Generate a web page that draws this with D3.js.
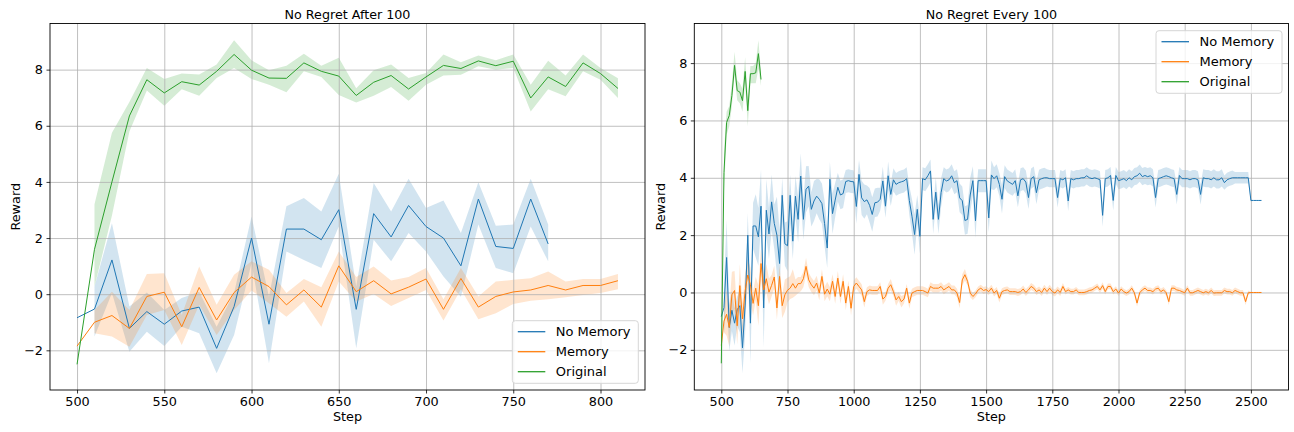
<!DOCTYPE html>
<html>
<head>
<meta charset="utf-8">
<script src="https://cdn.jsdelivr.net/npm/d3@7/dist/d3.min.js"></script>
<style>
  body { margin: 0; background: #fff; }
  svg { font-family: "DejaVu Sans", sans-serif; }
</style>
</head>
<body>
<svg width="1294" height="432"></svg>
<script>
// ---- data ----
const seriesNames = ['No Memory', 'Memory', 'Original'];
const seriesColors = ['#1f77b4', '#ff7f0e', '#2ca02c'];

// "No Regret After 100": steps 500, 510, ... (step of 10)
const afterNoMem = [-0.84, -0.53, 1.22, -1.22, -0.62, -1.07, -0.60, -0.46, -1.93, -0.44,
    2.00, -1.07, 2.32, 2.32, 1.94, 3.01, -0.54, 2.87, 2.04, 3.16,
    2.41, 2.00, 1.01, 3.39, 1.70, 1.63, 3.39, 1.79];
const afterNoMemLo = [null, -1.51, 0.04, -2.05, -1.34, -1.85, -1.16, -1.39, -2.82, -1.45,
    1.11, -2.46, 1.52, 1.22, 0.93, 2.41, -1.93, 1.94, 1.17, 2.18,
    1.52, 0.63, -0.09, 2.48, 0.93, 0.75, 2.41, 1.17];
const afterNoMemHi = [null, 0.27, 2.53, -0.44, 0.06, -0.56, -0.14, 0.09, -1.16, 0.04,
    2.77, -0.09, 3.13, 3.43, 2.95, 4.29, 0.27, 3.96, 2.95, 4.11,
    3.07, 3.34, 2.18, 3.99, 2.44, 2.48, 4.11, 2.48];

const afterMem = [-1.85, -1.00, -0.76, -1.22, -0.08, 0.07, -1.16, 0.24, -0.92, 0.06,
    0.61, 0.27, -0.38, 0.15, -0.46, 1.01, 0.09, 0.48, 0.01, 0.25,
    0.54, -0.54, 0.56, -0.46, -0.08, 0.08, 0.15, 0.31, 0.15, 0.31,
    0.31, 0.48];
const afterMemLo = [null, -1.39, -1.51, -1.87, -0.74, -0.56, -1.81, -0.38, -1.45, -0.56,
    0.13, -0.32, -0.80, -0.26, -1.16, 0.45, -0.26, 0.01, -0.42, -0.14,
    0.15, -0.94, 0.18, -0.89, -0.68, -0.35, -0.23, -0.18, -0.11, -0.03,
    0.04, 0.18];
const afterMemHi = [null, -0.56, 0.09, -0.56, 0.72, 0.75, -0.74, 0.99, -0.38, 0.69,
    1.17, 0.87, 0.04, 0.54, 0.25, 1.52, 0.61, 0.99, 0.49, 0.61,
    0.93, -0.18, 0.93, -0.08, 0.45, 0.51, 0.57, 0.81, 0.45, 0.54,
    0.54, 0.72];

const afterOrig = [-2.50, 1.60, 4.00, 6.35, 7.64, 7.17, 7.57, 7.45, 7.94, 8.54,
    7.98, 7.70, 7.69, 8.24, 7.94, 7.77, 7.08, 7.55, 7.79, 7.31,
    7.74, 8.15, 8.04, 8.31, 8.14, 8.30, 6.99, 7.74, 7.40, 8.24,
    7.86, 7.33];
const afterOrigLo = [null, 0.27, 2.80, 5.80, 7.26, 6.71, 7.30, 7.07, 7.70, 8.06,
    7.67, 7.46, 7.19, 7.94, 7.74, 7.10, 6.83, 7.07, 7.38, 6.89,
    7.46, 7.79, 7.82, 8.12, 8.00, 8.06, 6.51, 7.30, 7.05, 7.94,
    7.64, 6.99];
const afterOrigHi = [null, 3.20, 5.75, 6.85, 8.06, 7.67, 7.86, 7.83, 8.18, 9.05,
    8.33, 7.98, 8.14, 8.57, 8.14, 8.42, 7.34, 7.98, 8.18, 7.70,
    7.88, 8.54, 8.26, 8.50, 8.33, 8.54, 7.46, 8.32, 7.79, 8.54,
    8.06, 7.69];

// "No Regret Every 100": same runs up to the end of the left panel, then these tails
const everyNoMemTail = [
    3.36, 2.55,                                                      // 780-790
    4.06, 2.55, 3.60, 3.71, 2.90, 3.19, 3.36, 3.25, 3.10, 2.40,      // 800s
    1.55, 3.95, 2.75, 3.22, 3.67, 3.40, 3.45, 3.87, 3.90, 3.87,      // 900s
    3.86, 3.00, 4.12, 3.30, 3.17, 3.23, 3.04, 2.72, 3.13, 3.15,      // 1000s
    3.25, 3.89, 3.01, 4.07, 3.42, 3.93, 3.77, 3.83, 3.86, 3.89,      // 1100s
    3.97, 3.21, 2.66, 2.02, 2.90, 1.96, 3.97, 3.93, 4.07, 4.24,      // 1200s
    2.55, 3.50, 2.55, 3.48, 3.97, 3.89, 3.93, 4.07, 3.83, 3.90,      // 1300s
    3.30, 3.20, 2.51, 2.55, 3.40, 3.90, 2.50, 3.90, 3.90, 3.90,      // 1400s
    3.90, 2.60, 4.10, 3.97, 4.07, 3.77, 3.25, 4.04, 3.89, 3.83,      // 1500s
    3.77, 3.90, 3.37, 3.93, 3.97, 3.85, 3.31, 3.97, 4.04, 3.48,      // 1600s
    3.93, 3.97, 4.00, 4.00, 3.97, 3.97, 3.97, 3.31, 3.97, 3.93,      // 1700s
    4.00, 3.19, 3.97, 3.93, 3.97, 3.97, 4.00, 4.00, 4.07, 4.00,      // 1800s
    3.97, 4.00, 3.97, 3.93, 2.69, 3.97, 4.00, 4.08, 3.21, 4.08,      // 1900s
    3.90, 3.93, 3.97, 3.90, 4.00, 3.93, 4.04, 4.07, 4.16, 4.04,      // 2000s
    4.08, 4.04, 4.07, 4.00, 3.31, 3.97, 4.00, 4.04, 4.07, 4.04,      // 2100s
    4.00, 3.97, 3.42, 4.08, 3.97, 3.97, 3.97, 3.93, 3.97, 3.97,      // 2200s
    3.93, 3.42, 4.00, 3.97, 3.97, 3.93, 4.00, 3.93, 3.93, 4.00,      // 2300s
    3.83, 3.93, 3.97, 4.00, 4.00, 4.00, 4.00, 4.00, 4.00, 4.00,      // 2400s
    3.21, 3.21, 3.21, 3.21, 3.21                                     // 2500-2540
];
const everyNoMemSpread = [
    0.7, 0.8,
    0.8, 0.7, 0.8, 0.7, 0.6, 0.7, 0.6, 0.7, 0.7, 0.8,
    0.7, 0.6, 0.7, 0.6, 0.5, 0.5, 0.5, 0.4, 0.4, 0.4,
    0.4, 0.6, 0.5, 0.6, 0.6, 0.5, 0.6, 0.6, 0.5, 0.5,
    0.4, 0.5, 0.4, 0.5, 0.4, 0.4, 0.4, 0.4, 0.4, 0.4,
    0.4, 0.5, 0.6, 0.7, 0.5, 0.6, 0.4, 0.4, 0.4, 0.4,
    0.5, 0.5, 0.5, 0.5, 0.4, 0.4, 0.4, 0.4, 0.4, 0.4,
    0.5, 0.5, 0.5, 0.5, 0.6, 0.5, 0.6, 0.4, 0.4, 0.4,
    0.4, 0.5, 0.5, 0.4, 0.4, 0.4, 0.5, 0.4, 0.4, 0.4,
    0.4, 0.4, 0.4, 0.4, 0.4, 0.4, 0.4, 0.35, 0.35, 0.4,
    0.35, 0.35, 0.35, 0.3, 0.3, 0.3, 0.3, 0.35, 0.3, 0.3,
    0.3, 0.35, 0.3, 0.3, 0.3, 0.3, 0.3, 0.3, 0.3, 0.3,
    0.3, 0.3, 0.3, 0.3, 0.4, 0.3, 0.3, 0.3, 0.35, 0.3,
    0.3, 0.3, 0.3, 0.3, 0.3, 0.3, 0.3, 0.3, 0.3, 0.3,
    0.3, 0.3, 0.3, 0.3, 0.35, 0.3, 0.3, 0.3, 0.3, 0.3,
    0.3, 0.3, 0.35, 0.3, 0.3, 0.3, 0.3, 0.3, 0.3, 0.3,
    0.3, 0.35, 0.3, 0.3, 0.3, 0.3, 0.3, 0.3, 0.3, 0.3,
    0.25, 0.25, 0.25, 0.25, 0.2, 0.2, 0.2, 0.2, 0.2, 0.2,
    0.05, 0, 0, 0, 0
];

const everyMemTail = [
    0.91, 0.44, 0.27, 0.15, 0.33, -0.02, 0.56, -0.06,                   // 820-890
    0.12, -0.06, 0.39, -0.14, 0.50, -0.14, 0.39, -0.37, 0.21, -0.55,    // 900s
    0.21, 0.33, 0.21, 0.09, -0.32, 0.03, 0.09, 0.07, 0.07, 0.07,        // 1000s
    0.21, -0.23, -0.14, 0.15, 0.27, 0.03, -0.26, -0.14, -0.32, -0.23,   // 1100s
    0.15, -0.37, -0.02, 0.03, 0.07, 0.07, 0.07, 0.03, -0.02, 0.21,      // 1200s
    0.15, 0.15, 0.15, 0.21, 0.09, 0.15, 0.21, 0.09, 0.09, -0.02,        // 1300s
    -0.35, 0.44, 0.62, 0.39, -0.02, -0.14, -0.05, 0.09, 0.15, 0.07,     // 1400s
    0.10, 0.03, 0.15, -0.02, 0.07, -0.20, 0.03, 0.07, 0.09, 0.03,       // 1500s
    0.03, 0.03, 0.00, 0.03, 0.12, 0.00, 0.09, 0.21, 0.15, 0.03,         // 1600s
    0.09, 0.00, 0.15, 0.03, 0.15, 0.03, -0.02, 0.09, 0.00, 0.21,        // 1700s
    0.03, 0.09, 0.03, 0.03, 0.09, 0.00, 0.00, 0.00, 0.03, 0.07,         // 1800s
    0.09, 0.15, 0.21, 0.09, 0.24, 0.03, 0.21, 0.21, 0.03, 0.12,         // 1900s
    -0.02, 0.12, 0.03, -0.02, 0.03, 0.15, -0.01, -0.37, -0.01, 0.09,    // 2000s
    0.15, 0.07, 0.07, 0.03, 0.12, 0.15, 0.03, 0.09, -0.01, -0.32,       // 2100s
    0.15, 0.15, 0.09, 0.07, 0.03, -0.01, 0.15, -0.01, -0.01, 0.03,      // 2200s
    0.07, 0.03, -0.01, 0.03, -0.01, 0.07, -0.02, -0.01, -0.01, -0.01,   // 2300s
    0.07, 0.03, 0.03, -0.01, 0.07, 0.03, -0.01, -0.01, -0.32, -0.01,    // 2400s
    0.00, 0.00, 0.00, 0.00, 0.00                                        // 2500-2540
];
const everyMemSpread = [
    0.3, 0.25, 0.25, 0.25, 0.25, 0.25, 0.25, 0.25,
    0.25, 0.25, 0.25, 0.25, 0.25, 0.25, 0.25, 0.25, 0.2, 0.25,
    0.2, 0.2, 0.2, 0.2, 0.2, 0.15, 0.15, 0.15, 0.15, 0.15,
    0.15, 0.2, 0.15, 0.15, 0.2, 0.15, 0.2, 0.15, 0.2, 0.15,
    0.15, 0.2, 0.15, 0.15, 0.15, 0.15, 0.15, 0.15, 0.15, 0.15,
    0.15, 0.15, 0.15, 0.15, 0.15, 0.15, 0.15, 0.15, 0.15, 0.15,
    0.2, 0.2, 0.2, 0.15, 0.15, 0.12, 0.12, 0.12, 0.12, 0.12,
    0.12, 0.12, 0.12, 0.12, 0.12, 0.15, 0.12, 0.12, 0.12, 0.12,
    0.12, 0.12, 0.12, 0.12, 0.12, 0.12, 0.12, 0.12, 0.12, 0.12,
    0.12, 0.12, 0.12, 0.12, 0.12, 0.12, 0.12, 0.12, 0.12, 0.12,
    0.1, 0.1, 0.1, 0.1, 0.1, 0.1, 0.1, 0.1, 0.1, 0.1,
    0.1, 0.1, 0.1, 0.1, 0.12, 0.1, 0.1, 0.1, 0.1, 0.1,
    0.1, 0.1, 0.1, 0.1, 0.1, 0.1, 0.1, 0.12, 0.1, 0.1,
    0.1, 0.1, 0.1, 0.1, 0.1, 0.1, 0.1, 0.1, 0.1, 0.12,
    0.1, 0.1, 0.1, 0.1, 0.1, 0.1, 0.1, 0.1, 0.1, 0.1,
    0.1, 0.1, 0.1, 0.1, 0.1, 0.1, 0.1, 0.1, 0.1, 0.1,
    0.1, 0.1, 0.1, 0.1, 0.1, 0.1, 0.1, 0.1, 0.12, 0.08,
    0.02, 0, 0, 0, 0
];

const everyOrig = [-2.47, 4.18, 5.93, 6.17, 6.87, 7.92, 7.04, 6.99, 6.69, 7.71,
    6.34, 7.63, 7.63, 7.66, 8.33, 7.43];
const everyOrigLo = [null, 3.50, 5.50, 5.80, 6.50, 7.60, 6.70, 6.60, 6.30, 7.30,
    5.80, 7.30, 7.30, 7.30, 7.80, 7.20];
const everyOrigHi = [null, 4.90, 6.30, 6.50, 7.30, 8.40, 7.40, 7.30, 7.10, 8.20,
    6.80, 7.90, 7.90, 8.00, 8.80, 7.70];

const afterXTicks = [500, 550, 600, 650, 700, 750, 800];
const everyXTicks = [500, 750, 1000, 1250, 1500, 1750, 2000, 2250, 2500];
const yTicks = [-2, 0, 2, 4, 6, 8];

const firstStep = 500, stepGap = 10;

// ---- build the series ----
function makeSeries(mean, lo, hi) {
    return mean.map((v, i) => ({
        step: firstStep + i * stepGap, v: v,
        lo: lo[i], hi: hi[i]
    }));
}

const afterSeries = [
    makeSeries(afterNoMem, afterNoMemLo, afterNoMemHi),
    makeSeries(afterMem, afterMemLo, afterMemHi),
    makeSeries(afterOrig, afterOrigLo, afterOrigHi)
];

const everyNoMem = afterNoMem.concat(everyNoMemTail);
const everyMem = afterMem.concat(everyMemTail);
const everySeries = [
    makeSeries(everyNoMem,
        afterNoMemLo.concat(everyNoMemTail.map((v, i) => v - everyNoMemSpread[i])),
        afterNoMemHi.concat(everyNoMemTail.map((v, i) => v + everyNoMemSpread[i]))),
    makeSeries(everyMem,
        afterMemLo.concat(everyMemTail.map((v, i) => v - everyMemSpread[i])),
        afterMemHi.concat(everyMemTail.map((v, i) => v + everyMemSpread[i]))),
    makeSeries(everyOrig, everyOrigLo, everyOrigHi)
];

const svg = d3.select('svg');
const tickFmt = d3.format('d');

// matplotlib style 5% margins
function padded(ext) {
    const m = (ext[1] - ext[0]) * 0.05;
    return [ext[0] - m, ext[1] + m];
}

function drawPanel(cfg) {
    const { left, right, top, bottom } = cfg.box;
    const all = cfg.series.flat();
    const x = d3.scaleLinear()
        .domain(padded(d3.extent(all, d => d.step)))
        .range([left, right]);
    const yMin = d3.min(all, d => Math.min(d.v, d.lo == null ? d.v : d.lo));
    const yMax = d3.max(all, d => Math.max(d.v, d.hi == null ? d.v : d.hi));
    const y = d3.scaleLinear().domain(padded([yMin, yMax])).range([bottom, top]);

    const g = svg.append('g');

    // bands first (below grid), then grid, then lines
    const area = d3.area()
        .defined(d => d.lo != null)
        .x(d => x(d.step))
        .y0(d => y(d.lo))
        .y1(d => y(d.hi));
    cfg.series.forEach((s, i) => {
        g.append('path')
            .attr('d', area(s))
            .attr('fill', seriesColors[i])
            .attr('fill-opacity', 0.2);
    });

    // grid
    g.append('g')
        .attr('transform', 'translate(0,' + bottom + ')')
        .call(d3.axisBottom(x).tickValues(cfg.xTicks).tickSize(-(bottom - top)).tickFormat(''))
        .call(a => a.select('.domain').remove())
        .selectAll('line').attr('stroke', '#b0b0b0').attr('stroke-width', 0.8);
    g.append('g')
        .attr('transform', 'translate(' + left + ',0)')
        .call(d3.axisLeft(y).tickValues(yTicks).tickSize(-(right - left)).tickFormat(''))
        .call(a => a.select('.domain').remove())
        .selectAll('line').attr('stroke', '#b0b0b0').attr('stroke-width', 0.8);

    const line = d3.line().x(d => x(d.step)).y(d => y(d.v));
    cfg.series.forEach((s, i) => {
        g.append('path')
            .attr('d', line(s))
            .attr('fill', 'none')
            .attr('stroke', seriesColors[i])
            .attr('stroke-width', 1)
            .attr('stroke-linejoin', 'round');
    });

    // axes with ticks and labels
    const xAxis = g.append('g')
        .attr('transform', 'translate(0,' + bottom + ')')
        .call(d3.axisBottom(x).tickValues(cfg.xTicks).tickFormat(tickFmt).tickSize(3.5).tickPadding(3.5));
    const yAxis = g.append('g')
        .attr('transform', 'translate(' + left + ',0)')
        .call(d3.axisLeft(y).tickValues(yTicks).tickFormat(tickFmt).tickSize(3.5).tickPadding(3.5));
    [xAxis, yAxis].forEach(a => {
        a.select('.domain').remove();
        a.selectAll('line').attr('stroke', '#000').attr('stroke-width', 0.8);
        a.selectAll('text')
            .attr('fill', '#000')
            .style('font-size', '12.8px')
            .style('font-family', '"DejaVu Sans", sans-serif');
    });

    // frame
    g.append('rect')
        .attr('x', left).attr('y', top)
        .attr('width', right - left).attr('height', bottom - top)
        .attr('fill', 'none').attr('stroke', '#000').attr('stroke-width', 0.9);

    // title and axis labels
    g.append('text')
        .attr('x', (left + right) / 2).attr('y', 18.5)
        .attr('text-anchor', 'middle')
        .style('font-size', '12.7px')
        .text(cfg.title);
    g.append('text')
        .attr('x', (left + right) / 2).attr('y', 421)
        .attr('text-anchor', 'middle')
        .style('font-size', '12.8px')
        .text('Step');
    g.append('text')
        .attr('transform', 'translate(' + cfg.yLabelX + ',' + ((top + bottom) / 2) + ') rotate(-90)')
        .attr('text-anchor', 'middle')
        .style('font-size', '12.8px')
        .text('Reward');

    // legend
    const L = cfg.legend;
    const lg = g.append('g').attr('transform', 'translate(' + L.x + ',' + L.y + ')');
    lg.append('rect')
        .attr('width', 126).attr('height', 62.6)
        .attr('rx', 3).attr('ry', 3)
        .attr('fill', '#fff').attr('fill-opacity', 0.8)
        .attr('stroke', '#d6d6d6').attr('stroke-width', 1);
    seriesNames.forEach((name, i) => {
        const ry = 11 + i * 20;
        lg.append('line')
            .attr('x1', 5.5).attr('x2', 33)
            .attr('y1', ry).attr('y2', ry)
            .attr('stroke', seriesColors[i]).attr('stroke-width', 1.3);
        lg.append('text')
            .attr('x', 43.5).attr('y', ry)
            .attr('dy', '0.35em')
            .style('font-size', '13px')
            .text(name);
    });
}

drawPanel({
    title: 'No Regret After 100',
    series: afterSeries,
    xTicks: afterXTicks,
    box: { left: 50, right: 645, top: 23.5, bottom: 390 },
    yLabelX: 19.5,
    legend: { x: 512.3, y: 320.7 }
});

drawPanel({
    title: 'No Regret Every 100',
    series: everySeries,
    xTicks: everyXTicks,
    box: { left: 694.3, right: 1288.5, top: 23.5, bottom: 390 },
    yLabelX: 664.5,
    legend: { x: 1156, y: 30.7 }
});
</script>
</body>
</html>
